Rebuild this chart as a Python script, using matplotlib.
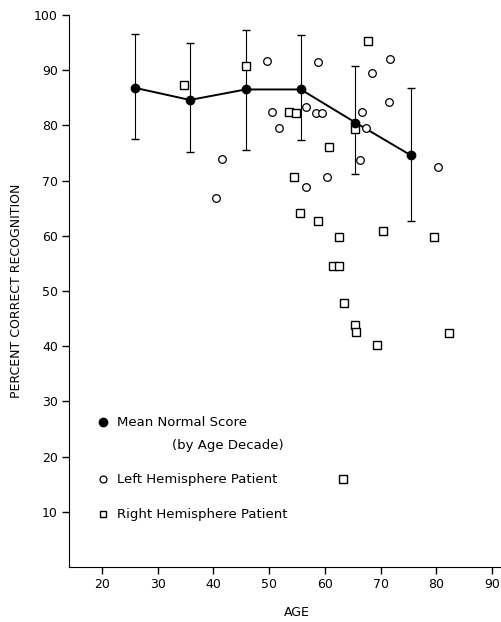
import matplotlib
matplotlib.use('Agg')
import matplotlib.pyplot as plt

# mean normal score by age decade, with error bar ends
decade_age = [25.9, 35.8, 45.8, 55.7, 65.5, 75.4]
mean_score = [86.8, 84.6, 86.5, 86.5, 80.5, 74.6]
err_top = [96.5, 94.9, 97.2, 96.4, 90.8, 86.8]
err_bottom = [77.5, 75.1, 75.5, 77.4, 71.1, 62.7]

# left hemisphere patients (open circles)
left_age = [41.6, 40.5, 49.6, 50.6, 51.8, 56.6, 56.6, 58.7, 71.7, 68.5,
            71.6, 58.4, 59.5, 66.6, 67.4, 66.4, 60.4, 80.4]
left_score = [73.9, 66.8, 91.7, 82.5, 79.5, 83.4, 68.8, 91.4, 92.0, 89.4,
              84.2, 82.3, 82.3, 82.5, 79.5, 73.7, 70.7, 72.5]

# right hemisphere patients (open squares)
right_age = [34.7, 45.8, 53.5, 54.8, 54.5, 67.8, 65.5, 60.8, 55.6, 58.7,
             70.5, 79.6, 62.6, 61.5, 62.6, 63.5, 65.4, 65.6, 69.3, 82.3, 63.3]
right_score = [87.3, 90.8, 82.5, 82.2, 70.7, 95.3, 79.3, 76.0, 64.1, 62.7,
               60.9, 59.7, 59.7, 54.5, 54.5, 47.9, 43.8, 42.6, 40.3, 42.4, 15.9]

xticks = [20, 30, 40, 50, 60, 70, 80, 90]
yticks = [10, 20, 30, 40, 50, 60, 70, 80, 90, 100]

fig = plt.figure(figsize=(5.02, 6.22), dpi=100)
ax = fig.add_axes([0.1375, 0.0884, 0.8625, 0.8876])

yerr = [[m - b for m, b in zip(mean_score, err_bottom)],
        [t - m for m, t in zip(mean_score, err_top)]]
ax.errorbar(decade_age, mean_score, yerr=yerr, fmt='none', ecolor='black',
            elinewidth=0.8, capsize=3, capthick=1.0, zorder=2)
ax.plot(decade_age, mean_score, '-', color='black', lw=1.4, zorder=3)
ax.plot(decade_age, mean_score, 'o', color='black', ms=6, zorder=4)

ax.plot(left_age, left_score, 'o', mfc='white', mec='black', mew=0.9, ms=5.5,
        ls='none', zorder=3)
ax.plot(right_age, right_score, 's', mfc='white', mec='black', mew=1.0, ms=5.5,
        ls='none', zorder=3)

ax.set_xlim(14.1, 91.8)
ax.set_ylim(0, 100)
ax.set_xticks(xticks)
ax.set_yticks(yticks)
ax.spines['top'].set_visible(False)
ax.spines['right'].set_visible(False)
ax.tick_params(direction='out', length=5, width=1, labelsize=9, pad=3)

ax.set_xlabel('AGE', fontsize=9)
ax.xaxis.set_label_coords(0.527, -0.071)
ax.set_ylabel('PERCENT CORRECT RECOGNITION', fontsize=9, labelpad=8)

# legend drawn as text inside the axes
ax.plot([20.2], [26.2], 'o', color='black', ms=6)
ax.text(22.7, 26.2, 'Mean Normal Score', fontsize=9.5, va='center')
ax.text(32.6, 22.0, '(by Age Decade)', fontsize=9.5, va='center')
ax.plot([20.2], [15.9], 'o', mfc='white', mec='black', mew=0.9, ms=5)
ax.text(22.7, 15.9, 'Left Hemisphere Patient', fontsize=9.5, va='center')
ax.plot([20.2], [9.6], 's', mfc='white', mec='black', mew=1.0, ms=5)
ax.text(22.7, 9.6, 'Right Hemisphere Patient', fontsize=9.5, va='center')

fig.savefig('out.png', dpi=100)
